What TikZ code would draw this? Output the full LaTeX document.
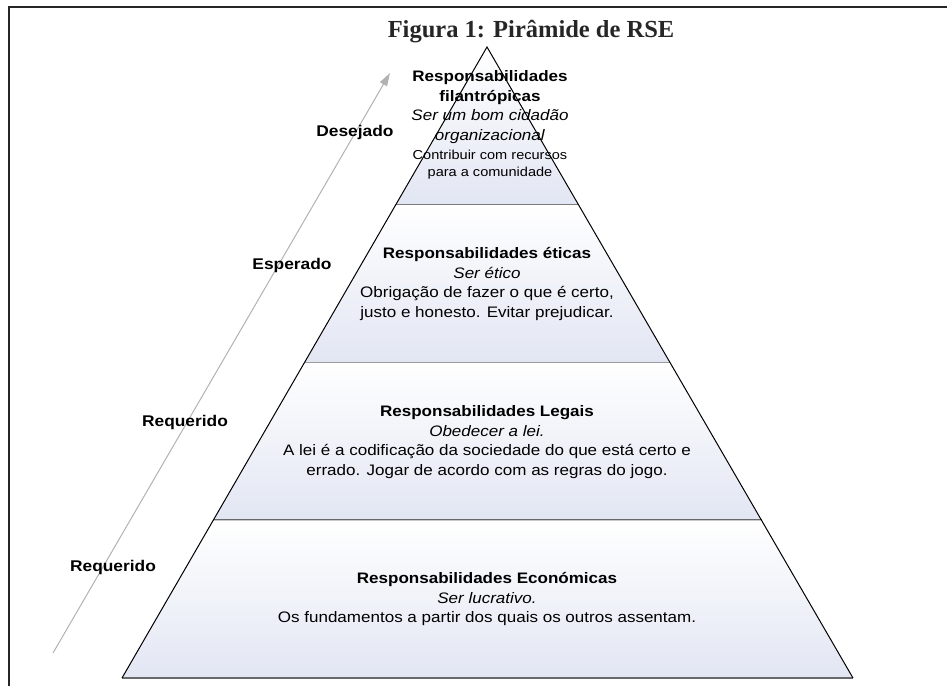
\documentclass[tikz,border=0pt]{standalone}
\usepackage{fontspec}
\setmainfont{Liberation Sans}[FakeStretch=1.12]
\newfontfamily\titlefont{Liberation Serif}
\usepackage{tikz}
\usetikzlibrary{arrows.meta,calc}
\definecolor{bandblue}{RGB}{226,230,243}
\definecolor{sepgray}{RGB}{105,105,105}
\definecolor{arrowgray}{RGB}{178,178,178}

\begin{document}
\begin{tikzpicture}[x=1pt,y=-1pt,semithick]
  \tikzstyle{band}=[top color=white,bottom color=bandblue,draw=none]
  \tikzstyle{level}=[align=center,inner sep=0pt,font=\fontsize{15.2}{19.5}\selectfont]
  \tikzstyle{side}=[inner sep=0pt,font=\fontsize{15.5}{18}\selectfont\bfseries]

  \useasboundingbox (0,0) rectangle (947,686);
  \draw[line width=1.5pt,black!85] (9,686) -- (9,7) -- (947,7);
  \node[font=\titlefont\fontsize{24.5}{28}\selectfont\bfseries,text=black!85] (title) at (531,32) {Figura 1: Pirâmide de RSE};

  \coordinate (apex) at (487,47);
  \coordinate (BL)   at (122,678);
  \coordinate (BR)   at (853,678);
  \foreach \t/\s [count=\i] in {0/.25,.25/.5,.5/.75,.75/1}{
    \coordinate (L\i) at ($(apex)!\s!(BL)$);
    \coordinate (R\i) at ($(apex)!\s!(BR)$);
    \shade[band] ($(apex)!\t!(BL)$) -- (L\i) -- (R\i) -- ($(apex)!\t!(BR)$) -- cycle;
    \draw[sepgray,line width=1.6pt] (L\i) -- (R\i);
  }
  \draw[line width=1pt] (BL) -- (apex) -- (BR);

  \node[level] (filan) at (490,125) {\textbf{Responsabilidades}\\\textbf{filantrópicas}\\
    \textit{Ser um bom cidadão}\\\textit{organizacional}\\
    {\fontsize{13}{15}\selectfont Contribuir com recursos}\\[-2.5pt]
    {\fontsize{13}{15}\selectfont para a comunidade}};
  \node[level] (etica) at (487,284) {\textbf{Responsabilidades éticas}\\\textit{Ser ético}\\
    Obrigação de fazer o que é certo,\\justo e honesto. Evitar prejudicar.};
  \node[level] (legal) at (487,442) {\textbf{Responsabilidades Legais}\\\textit{Obedecer a lei.}\\
    A lei é a codificação da sociedade do que está certo e\\errado. Jogar de acordo com as regras do jogo.};
  \node[level] (econ) at (487,599) {\textbf{Responsabilidades Económicas}\\\textit{Ser lucrativo.}\\
    Os fundamentos a partir dos quais os outros assentam.};

  \coordinate (tail) at (53,653);
  \coordinate (head) at (390,73);
  \draw[arrowgray,line width=1pt,-{Triangle[length=13pt,width=8pt]}] (tail) -- (head);

  \node[side] (desejado)  at (355,132) {Desejado};
  \node[side] (esperado)  at (292,265) {Esperado};
  \node[side] (requerido) at (185,422) {Requerido};
  \node[side] (requerida) at (113,567) {Requerido};
\end{tikzpicture}
\end{document}
